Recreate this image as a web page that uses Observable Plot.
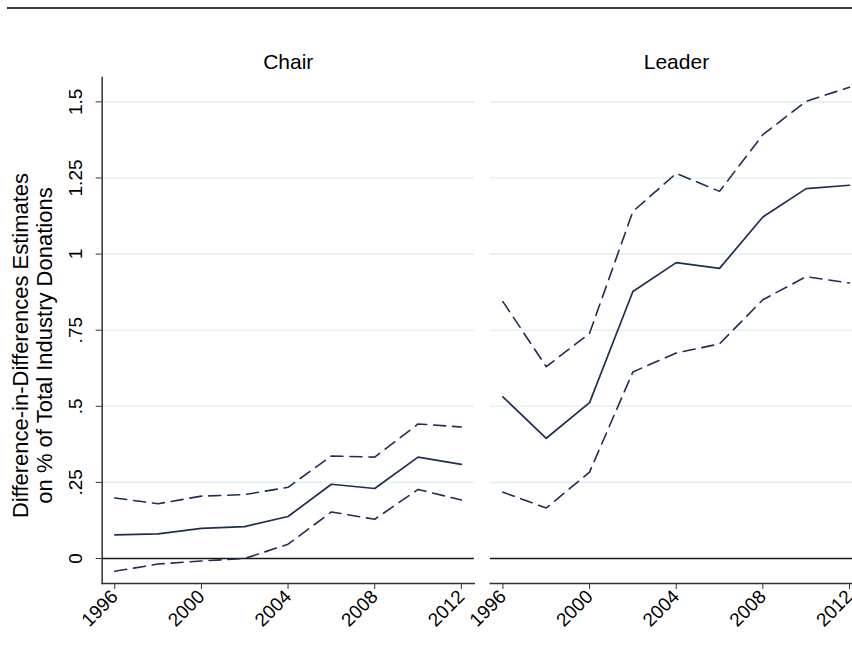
<!DOCTYPE html>
<html><head><meta charset="utf-8">
<script src="https://cdn.jsdelivr.net/npm/d3@7"></script>
<script src="https://cdn.jsdelivr.net/npm/@observablehq/plot@0.6"></script>
<style>
html,body{margin:0;padding:0;background:#fff;overflow:hidden;width:852px;height:649px}
#wrap{position:relative;width:852px;height:649px;overflow:hidden}
#rule{position:absolute;left:7px;right:0;top:7px;border-top:2px solid #3a3a3a}
#chart{position:absolute;left:0;top:0;width:862px;height:649px}
#chart svg{max-width:none !important;width:862px !important;height:649px !important}
</style></head><body>
<div id="wrap"><div id="rule"></div><div id="chart"></div></div>
<script>
const years = [1996, 1998, 2000, 2002, 2004, 2006, 2008, 2010, 2012];
const panels = ["Chair", "Leader"];
const chairEstimate = [0.078, 0.081, 0.099, 0.105, 0.138, 0.244, 0.230, 0.333, 0.309];
const chairUpper    = [0.199, 0.180, 0.205, 0.210, 0.234, 0.337, 0.333, 0.442, 0.432];
const chairLower    = [-0.042, -0.018, -0.008, 0.000, 0.047, 0.153, 0.129, 0.227, 0.192];
const leaderEstimate = [0.531, 0.395, 0.512, 0.877, 0.972, 0.953, 1.122, 1.215, 1.226];
const leaderUpper    = [0.844, 0.630, 0.740, 1.140, 1.265, 1.206, 1.392, 1.502, 1.548];
const leaderLower    = [0.218, 0.166, 0.284, 0.613, 0.675, 0.705, 0.850, 0.926, 0.905];
const yTicks = [0, 0.25, 0.5, 0.75, 1, 1.25, 1.5];
const yTickLabels = ["0", ".25", ".5", ".75", "1", "1.25", "1.5"];
const xTicks = [1996, 2000, 2004, 2008, 2012];
const yTitle = "Difference-in-Differences Estimates\non % of Total Industry Donations";

const navy = "#1f2e50";
const font = "'Liberation Sans', Arial, Helvetica, sans-serif";

const series = {
  Chair: {estimate: chairEstimate, upper: chairUpper, lower: chairLower},
  Leader: {estimate: leaderEstimate, upper: leaderUpper, lower: leaderLower}
};
const rows = [];
for (const p of panels) for (const s of ["estimate", "upper", "lower"])
  years.forEach((yr, i) => rows.push({panel: p, series: s, year: yr, value: series[p][s][i]}));
const est = rows.filter(d => d.series === "estimate");
const bounds = rows.filter(d => d.series !== "estimate");

const chart = Plot.plot({
  width: 862,
  height: 649,
  marginLeft: 101.7,
  marginRight: 0,
  marginTop: 77,
  marginBottom: 66,
  style: {fontFamily: font, background: "transparent", color: "#000", maxWidth: "none"},
  x: {domain: [1995.42, 2012.6], label: null},
  y: {domain: [-0.082, 1.58], label: null},
  fx: {domain: panels, paddingInner: 0.0412, paddingOuter: 0, round: false, label: null},
  marks: [
    Plot.gridY(yTicks.filter(d => d !== 0), {stroke: "#e6eff2", strokeOpacity: 1, strokeWidth: 1.6}),
    Plot.ruleY([0], {stroke: "#1a1a1a", strokeWidth: 1.5}),
    Plot.frame({anchor: "left", facetAnchor: "left", stroke: "#333", strokeWidth: 1.5}),
    Plot.frame({anchor: "bottom", stroke: "#333", strokeWidth: 1.5}),
    Plot.line(bounds, {x: "year", y: "value", fx: "panel", z: "series", stroke: navy, strokeWidth: 1.6, strokeDasharray: "12,7"}),
    Plot.line(est, {x: "year", y: "value", fx: "panel", stroke: navy, strokeWidth: 1.7}),
    Plot.axisY({ticks: yTicks, tickFormat: (d) => yTickLabels[yTicks.indexOf(d)], tickRotate: -90, tickSize: 6, tickPadding: 14, fontSize: 19, label: null, stroke: "#333"}),
    Plot.axisX({ticks: xTicks, tickFormat: d => String(d), tickRotate: -45, tickSize: 6, tickPadding: 4, fontSize: 19, label: null, stroke: "#333"}),
    Plot.axisFx({anchor: "top", tickSize: 0, tickPadding: 9, fontSize: 21, label: null}),
    Plot.text([{panel: "Chair"}], {fx: "panel", text: () => yTitle, frameAnchor: "left", textAnchor: "middle", rotate: -90, dx: -70, dy: 15, fontSize: 22, lineHeight: 1.1, fill: "#000"})
  ]
});
document.getElementById("chart").appendChild(chart);
</script>
</body></html>
